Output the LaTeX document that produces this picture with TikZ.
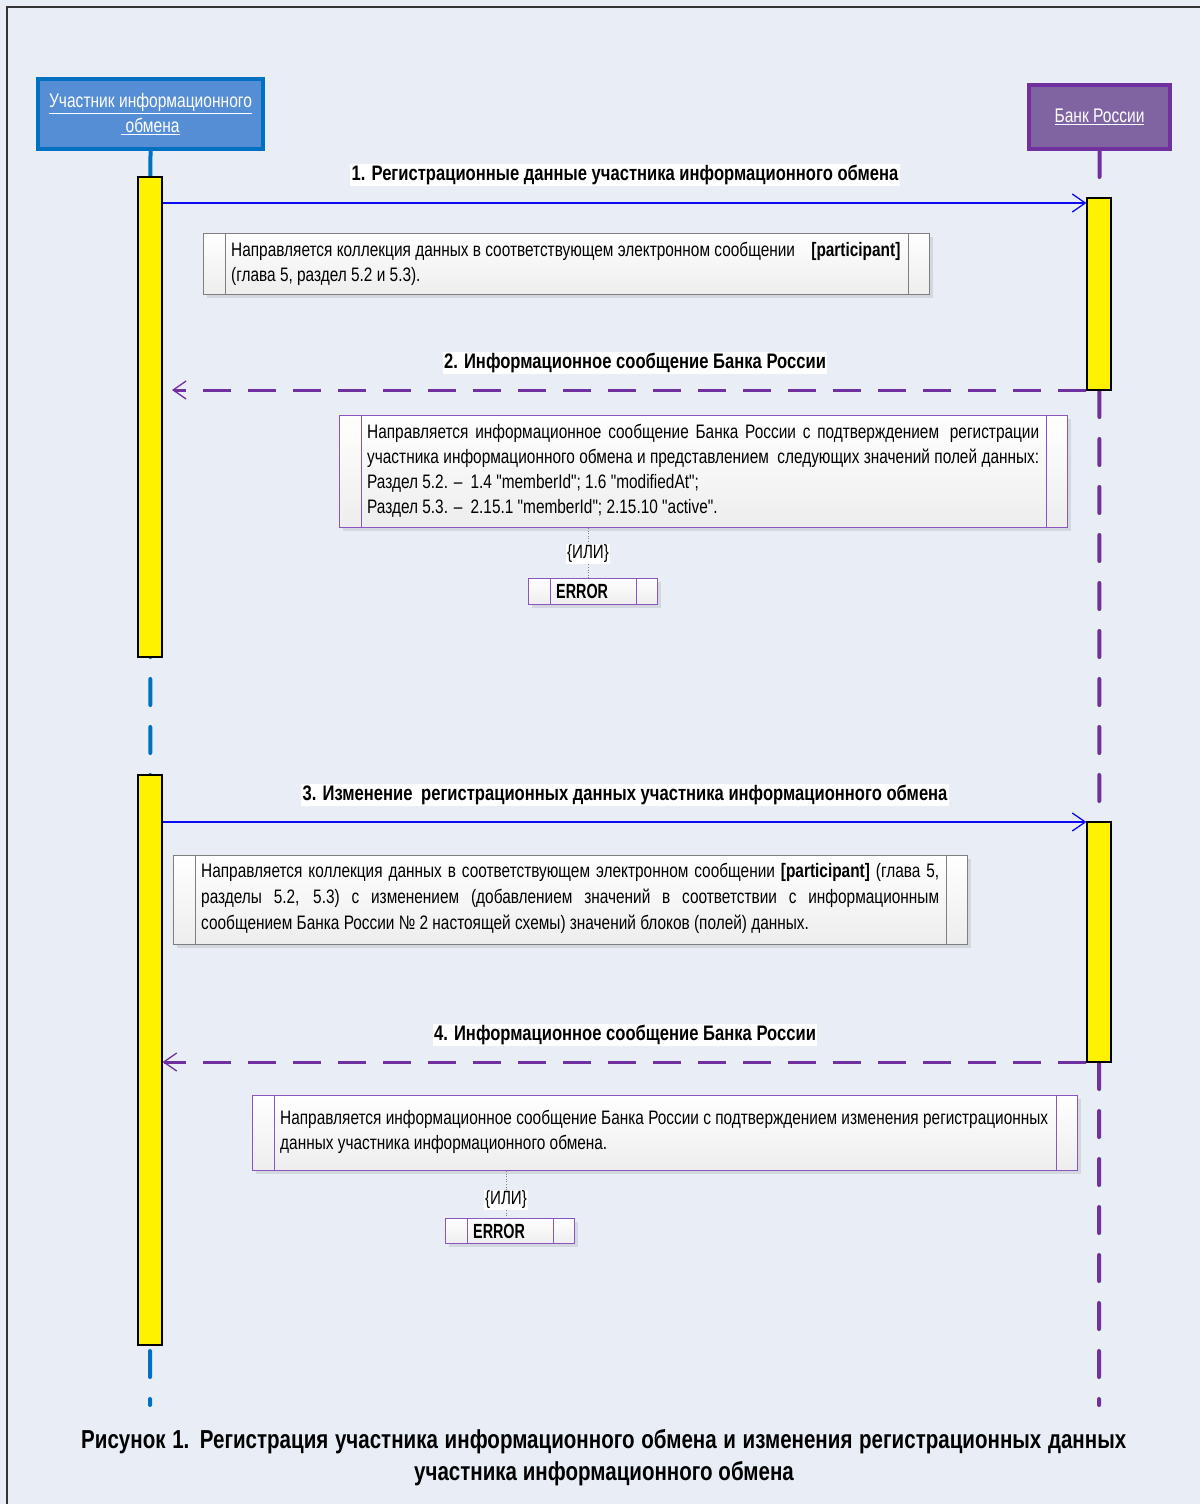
\documentclass[tikz,border=0pt]{standalone}
\usepackage{fontspec}
\setmainfont{Liberation Sans}[FakeStretch=0.79, Ligatures=TeXOff]
\newfontfamily\errfont{Liberation Sans}[FakeStretch=0.7, Ligatures=TeXOff]
\usetikzlibrary{arrows.meta}
\definecolor{bgc}{HTML}{E9EEF6}
\definecolor{lifeA}{HTML}{0070C0}
\definecolor{boxA}{HTML}{558ED5}
\definecolor{lifeB}{HTML}{7030A0}
\definecolor{boxB}{HTML}{8064A2}
\definecolor{msgblue}{HTML}{0A0AF5}
\definecolor{notegrey}{HTML}{7F7F7F}
\definecolor{notepurp}{HTML}{8A55C0}
\definecolor{shadowc}{HTML}{D3D7DE}
\newcommand\notebox[6]{%
  \fill[shadowc] (#2+4,#3+4) rectangle (#4+4,#5+4);
  \node[notebg, draw=#6, anchor=north west, minimum width={(#4-#2)*1pt}, minimum height={(#5-#3)*1pt}] (#1) at (#2,#3) {};
  \draw[#6, line width=1pt] ([xshift=22pt]#1.north west) -- ([xshift=22pt]#1.south west);
  \draw[#6, line width=1pt] ([xshift=-22pt]#1.north east) -- ([xshift=-22pt]#1.south east);
}
\begin{document}
\begin{tikzpicture}[x=1pt,y=-1pt,
  actorA/.style={draw=lifeA, fill=boxA, line width=4pt, minimum width=225pt, minimum height=70pt, text=white, align=center, inner sep=0pt, font=\fontsize{19.7}{25}\selectfont},
  actorB/.style={draw=lifeB, fill=boxB, line width=4pt, minimum width=141pt, minimum height=64pt, text=white, align=center, inner sep=0pt, font=\fontsize{19.7}{25}\selectfont},
  lifeline/.style={line width=4pt, dash pattern=on 26pt off 22pt, line cap=round},
  actbar/.style={draw=black, fill=yellow, line width=1.2pt, minimum width=24pt, inner sep=0pt},
  tip/.style={-{Straight Barb[length=13pt,width=18pt,line width=1.3pt]}},
  msgsolid/.style={draw=msgblue, line width=2pt, tip},
  msgdash/.style={draw=lifeB, line width=3pt, dash pattern=on 28pt off 17pt, tip},
  msglabel/.style={fill=white, inner sep=1.5pt, font=\bfseries\fontsize{21}{23}\selectfont},
  notebg/.style={top color=white, bottom color=gray!14, line width=1pt, inner sep=0pt},
  notetext/.style={inner sep=0pt, align=left, anchor=west, font=\fontsize{19.5}{25}\selectfont},
  ortext/.style={fill=white, inner sep=1pt, font=\fontsize{19.2}{22}\selectfont},
  errtext/.style={inner sep=0pt, anchor=west, font=\errfont\bfseries\fontsize{20.5}{22}\selectfont},
  dotline/.style={draw=gray, dotted, line width=0.6pt},
  captext/.style={inner sep=0pt, font=\bfseries\fontsize{26}{32}\selectfont}
]
\useasboundingbox (0,0) rectangle (1200,1504);
\fill[bgc] (0,0) rectangle (1200,1504);
\draw[line width=2pt, black!80] (7,1504) -- (7,7) -- (1200,7);

% participants
\node[actorA] (pA) at (150.5,114) {\underline{Участник информационного}\\\underline{ обмена}};
\node[actorB] (pB) at (1099.5,117) {\underline{Банк России}};

% lifelines
\coordinate (endA) at (150,1405);
\coordinate (endB) at (1099,1405);
\draw[lifeline, lifeA] (pA.south) -- (endA);
\draw[lifeline, lifeB] (pB.south) -- (endB);

% activation bars
\node[actbar, minimum height=480pt] (a1) at (150,417) {};
\node[actbar, minimum height=570pt] (a2) at (150,1060) {};
\node[actbar, minimum height=192pt] (b1) at (1099,294) {};
\node[actbar, minimum height=240pt] (b2) at (1099,942) {};

% message 1
\coordinate (y1) at (0,203);
\draw[msgsolid] (a1.east |- y1) -- (b1.west |- y1);
\node[msglabel] (l1) at (625,175) {1. Регистрационные данные участника информационного обмена};
\notebox{n1}{203}{233}{929}{294}{notegrey}
\node[notetext] (t1) at (231,263.5) {Направляется коллекция данных в соответствующем электронном сообщении\hspace{12pt} \textbf{[participant]}\\(глава 5, раздел 5.2 и 5.3).};

% message 2
\coordinate (y2) at (0,390);
\coordinate (m2end) at (172,390);
\draw[msgdash] (b1.west |- y2) -- (m2end);
\node[msglabel] (l2) at (635,363) {2. Информационное сообщение Банка России};
\notebox{n2}{339}{415}{1067}{527}{notepurp}
\node[notetext] (t2) at (367,470.5) {\makebox[672pt][s]{Направляется информационное сообщение Банка России с подтверждением\hspace{4pt} регистрации}\\\makebox[672pt][s]{участника информационного обмена и представлением\hspace{4pt} следующих значений полей данных:}\\Раздел 5.2. –\hspace{4pt} 1.4 "memberId"; 1.6 "modifiedAt";\\Раздел 5.3. –\hspace{4pt} 2.15.1 "memberId"; 2.15.10 "active".};
\coordinate (or1c) at (588,554);
\notebox{e1}{528}{578}{657}{604}{notepurp}
\draw[dotline] (or1c |- n2.south) -- (or1c |- e1.north);
\node[ortext] (or1) at (or1c) {\{ИЛИ\}};
\node[errtext] (er1) at (556,591) {ERROR};

% message 3
\coordinate (y3) at (0,822);
\draw[msgsolid] (a2.east |- y3) -- (b2.west |- y3);
\node[msglabel] (l3) at (625,795) {3. Изменение\hspace{4pt} регистрационных данных участника информационного обмена};
\notebox{n3}{173}{855}{967}{944}{notegrey}
\node[notetext, font=\fontsize{19.5}{26}\selectfont] (t3) at (201,898.5) {\makebox[738pt][s]{Направляется коллекция данных в соответствующем электронном сообщении \textbf{[participant]} (глава 5,}\\\makebox[738pt][s]{разделы 5.2, 5.3) с изменением (добавлением значений в соответствии с информационным}\\сообщением Банка России № 2 настоящей схемы) значений блоков (полей) данных.};

% message 4
\coordinate (y4) at (0,1062);
\draw[msgdash] (b2.west |- y4) -- (a2.east |- y4);
\node[msglabel] (l4) at (625,1035) {4. Информационное сообщение Банка России};
\notebox{n4}{252}{1095}{1077}{1170}{notepurp}
\node[notetext] (t4) at (280,1132) {Направляется информационное сообщение Банка России с подтверждением изменения регистрационных\\данных участника информационного обмена.};
\coordinate (or2c) at (506,1200);
\notebox{e2}{445}{1218}{574}{1243}{notepurp}
\draw[dotline] (or2c |- n4.south) -- (or2c |- e2.north);
\node[ortext] (or2) at (or2c) {\{ИЛИ\}};
\node[errtext] (er2) at (473,1231) {ERROR};

% caption
\node[captext, anchor=west] (cap1) at (81,1442) {\makebox[1045pt][s]{Рисунок 1. Регистрация участника информационного обмена и изменения регистрационных данных}};
\node[captext] (cap2) at (604,1474) {участника информационного обмена};
\end{tikzpicture}
\end{document}
